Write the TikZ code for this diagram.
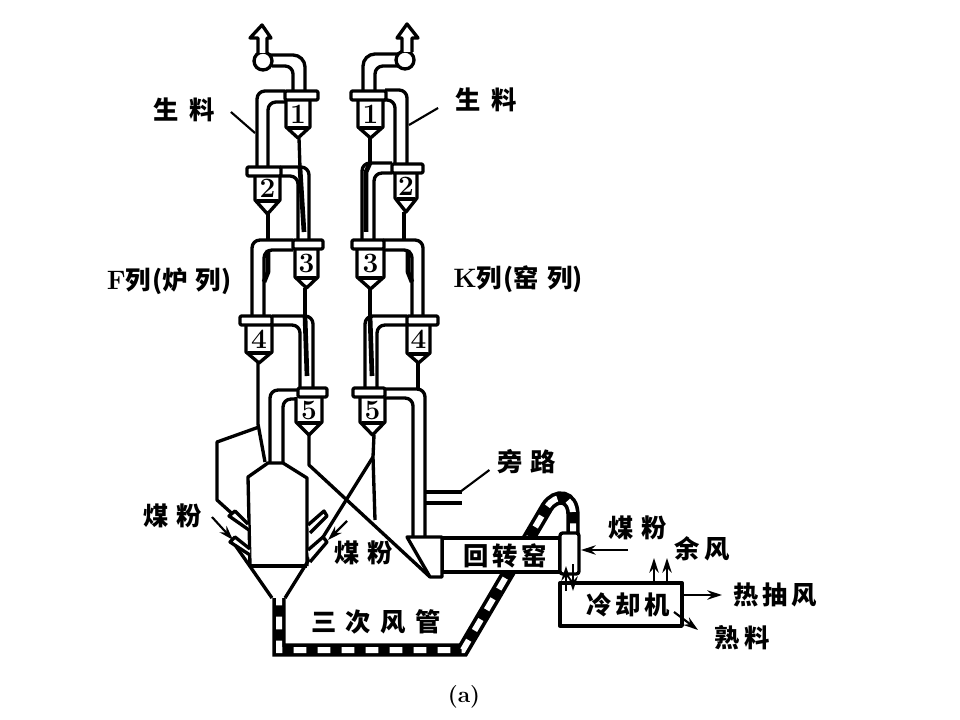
\documentclass[tikz,border=0pt]{standalone}
\usepackage{fontspec}
\newfontfamily\cjk{Noto Sans CJK SC}
\usetikzlibrary{arrows.meta}
\tikzset{
  >={Stealth},
  pipe/.style={line width=2.5pt,line join=round,rounded corners=6pt},
  wall/.style={line width=2.5pt,line join=round},
  stem/.style={line width=2.5pt},
  feed/.style={line width=3.5pt,line join=round},
  thin line/.style={line width=1.6pt},
  flow/.style={line width=1.6pt,->,>={Stealth[length=11pt,width=7pt]}},
  lbl/.style={font=\cjk\bfseries\fontsize{19}{20}\selectfont,inner sep=0pt},
  num/.style={font=\bfseries\fontsize{21}{21}\selectfont,inner sep=0pt},
  duct/.style={line width=10pt,line join=miter},
  ductgap/.style={line width=4.5pt,white,dash pattern=on 9.5pt off 8.5pt},
}
\newcommand{\latinb}[1]{{\rmfamily\bfseries\fontsize{20}{20}\selectfont #1}}

\begin{document}
\begin{tikzpicture}[x=0.75pt,y=-0.75pt]
	\useasboundingbox (0,0) rectangle (960,720);

	% tertiary air duct
	\path (279,598) coordinate (ductA) -- (279,650) coordinate (ductB)
		-- (463,650) coordinate (ductC) -- (547,507) coordinate (ductD);
	\draw[duct] (ductA) -- (ductB) -- (ductC) -- (ductD)
		.. controls (556,493) and (573,495) .. (573,515) -- (573,533);
	\draw[ductgap,dash phase=4pt] (ductA) -- (ductB) -- (ductC) -- (ductD)
		.. controls (556,493) and (573,495) .. (573,515) -- (573,533);

	% top outlets
	\draw[pipe,rounded corners=9pt] (305,92) -- (305,55) -- (270,55);
	\draw[pipe] (293,92) -- (293,66) -- (272,66);
	\draw[pipe,rounded corners=9pt] (363,92) -- (363,54) -- (398,54);
	\draw[pipe] (375,92) -- (375,66) -- (398,66);
	\draw[wall,fill=white] (263,61) circle (9);
	\draw[wall,fill=white] (405,60) circle (9);
	\draw[wall,fill=white] (258,53) -- (258,38) -- (250,38) -- (262,25) -- (271,38) -- (267,38) -- (267,53);
	\draw[wall,fill=white] (402,52) -- (402,38) -- (397,38) -- (407,24) -- (418,38) -- (412,38) -- (412,52);

	% F column, pipes
	\draw[pipe] (257,167) -- (257,91) -- (285,91);
	\draw[pipe] (268,167) -- (268,102) -- (285,102);
	\draw[pipe] (280,167) -- (309,167) -- (309,240);
	\draw[pipe] (280,176) -- (298,176) -- (298,240);
	\draw[pipe] (252,316) -- (252,240) -- (293,240);
	\draw[pipe] (264,316) -- (264,250) -- (293,250);
	\draw[pipe] (272,316) -- (313,316) -- (313,388);
	\draw[pipe] (272,325) -- (300,325) -- (300,388);
	\draw[pipe] (270,462) -- (270,390) -- (298,390);
	\draw[pipe] (283,462) -- (283,399) -- (298,399);

	% K column, pipes
	\draw[pipe] (407,163) -- (407,90) -- (385,90);
	\draw[pipe] (395,163) -- (395,100) -- (383,100);
	\draw[pipe] (392,163) -- (362,163) -- (362,240);
	\draw[pipe] (392,173) -- (374,173) -- (374,240);
	\draw[pipe] (423,316) -- (423,240) -- (383,240);
	\draw[pipe] (412,316) -- (412,250) -- (383,250);
	\draw[pipe] (407,316) -- (365,316) -- (365,388);
	\draw[pipe] (407,325) -- (377,325) -- (377,388);
	\draw[pipe] (385,389) -- (425,389) -- (425,538);
	\draw[pipe] (385,398) -- (413,398) -- (413,538);

	% stems and feed tubes
	\draw[stem] (299,138) -- (300,168);
	\draw[feed] (300,168) -- (304,232);
	\draw[stem] (268,214) -- (268,240);
	\draw[feed] (268,250) -- (268,272) -- (264,282);
	\draw[stem] (305,288) -- (305,316);
	\draw[feed] (305,316) -- (307,376);
	\draw[stem] (258,363) -- (258,424) -- (265,462);
	\draw[stem] (370,138) -- (370,163);
	\draw[feed] (370,163) -- (366,172) -- (366,232);
	\draw[stem] (404,212) -- (404,240);
	\draw[feed] (408,250) -- (408,272) -- (412,282);
	\draw[stem] (370,289) -- (370,316);
	\draw[feed] (370,316) -- (372,376);
	\draw[stem] (418,363) -- (418,388);

	% cyclones
	\foreach \nm/\txt/\xa/\xb/\ya/\xl/\xr/\ys/\yt in {
		Fa/1/285/318/91/286/310/127/138, Ka/1/351/386/91/358/383/127/138,
		Fb/2/247/281/167/255/280/200/214, Kb/2/392/423/164/395/417/198/212,
		Fc/3/293/323/240/295/318/277/288, Kc/3/352/384/240/357/384/277/289,
		Fd/4/240/272/316/246/272/352/363, Kd/4/407/438/316/407/430/353/363,
		Fe/5/298/327/388/296/322/422/435, Ke/5/353/385/388/360/385/422/435}{
		\draw[wall,fill=white] (\xl,\ya+9) -- (\xl,\ys) -- ({(\xl+\xr)/2},\yt) -- (\xr,\ys) -- (\xr,\ya+9);
		\draw[wall] (\xl+2,\ys+1) -- (\xr-2,\ys+1);
		\draw[wall,fill=white,rounded corners=1pt] (\xa,\ya) rectangle (\xb,\ya+9);
		\node[num] (\nm) at ({(\xl+\xr)/2},{(\ya+\ys)/2+5}) {\txt};
	}

	% furnace
	\draw[wall] (250,566) -- (248,477) -- (268,463) -- (283,463) -- (307,478) -- (307,566);
	\draw[wall] (250,566) -- (307,566);
	\draw[wall] (233,542) -- (272,598);
	\draw[wall] (373,457) -- (285,598);
	\draw[wall] (309,435) -- (309,465) -- (430,577);
	\draw[wall] (374,435) -- (373,457) -- (375,520);
	\draw[wall] (259,427) -- (217,442) -- (217,500) -- (248,528);

	% burners
	\draw[wall,fill=white] (249,530) -- (229,516) -- (235,511) -- (248,524);
	\draw[wall,fill=white] (250,555) -- (230,542) -- (235,537) -- (250,549);
	\draw[wall,fill=white] (308,525) -- (324,511) -- (327,516) -- (310,533);
	\draw[wall,fill=white] (308,550) -- (323,537) -- (327,542) -- (310,562);

	% kiln
	\draw[wall,fill=white] (442,538) rectangle (560,572);
	\draw[wall,fill=white] (407,537) -- (442,537) -- (442,577) -- (430,577) -- cycle;
	\draw[wall,fill=white,rounded corners=2pt] (560,533) rectangle (579,574);

	% bypass
	\draw[wall] (425,492) -- (462,492);
	\draw[wall] (425,503) -- (462,503);

	% cooler
	\draw[wall] (560,583) rectangle (682,626);
	\node[lbl] (cooler) at (628,605) {冷\hspace{3pt}却\hspace{3pt}机};
	\coordinate (headA) at (566,566);
	\coordinate (coolerA) at (566,591);
	\coordinate (headB) at (573,564);
	\coordinate (coolerB) at (573,591);
	\draw[flow] (coolerA) -- (headA);
	\draw[flow] (headB) -- (coolerB);

	% labels
	\node[lbl] (rawF) at (184,110) {生\hspace{8pt}料};
	\node[lbl] (rawK) at (486,100) {生\hspace{8pt}料};
	\node[lbl] (colF) at (169,281) {\latinb{F}列\hspace{1pt}(炉\hspace{6pt}列)};
	\node[lbl] (colK) at (518,279) {\latinb{K}列\hspace{1pt}(窑\hspace{6pt}列)};
	\node[lbl] (bypass) at (527,462) {旁\hspace{6pt}路};
	\node[lbl] (coalL) at (173,516) {煤\hspace{6pt}粉};
	\node[lbl] (coalR) at (364,553) {煤\hspace{6pt}粉};
	\node[lbl] (coalK) at (638,528) {煤\hspace{6pt}粉};
	\node[lbl] (kiln) at (505,556) {回\hspace{3pt}转\hspace{3pt}窑};
	\node[lbl] (tertiary) at (376,622) {三\hspace{7pt}次\hspace{7pt}风\hspace{7pt}管};
	\node[lbl] (waste) at (702,549) {余\hspace{4pt}风};
	\node[lbl] (hot) at (775,595) {热\hspace{3pt}抽\hspace{3pt}风};
	\node[lbl] (clinker) at (742,638) {熟\hspace{4pt}料};
	\node[inner sep=0pt,font=\rmfamily\bfseries\fontsize{17}{17}\selectfont] (sub) at (464,697) {(a)};

	% callouts
	\coordinate (wallF) at (255,133);
	\coordinate (wallK) at (409,125);
	\coordinate (wallB) at (460,492);
	\draw[thin line] (rawF.east) ++(16,2) -- (wallF);
	\draw[thin line] (rawK.west) ++(-17,8) -- (wallK);
	\draw[thin line] (bypass.west) ++(-8,8) -- (wallB);

	% coal, air and clinker arrows
	\coordinate (coalFa) at (212,517);
	\coordinate (coalFb) at (233,540);
	\coordinate (coalRa) at (347,521);
	\coordinate (coalRb) at (328,540);
	\coordinate (hoodIn) at (581,550);
	\coordinate (coalKa) at (628,550);
	\coordinate (coolerTopA) at (654,583);
	\coordinate (coolerTopB) at (667,583);
	\coordinate (coolerE) at (682,595);
	\coordinate (coolerS) at (674,612);
	\coordinate (hotEnd) at (722,595);
	\coordinate (clinkerEnd) at (698,630);
	\draw[flow] (coalFa) -- (coalFb);
	\draw[flow] (coalRa) -- (coalRb);
	\draw[flow] (coalKa) -- (hoodIn);
	\draw[flow] (coolerTopA) -- (654,558);
	\draw[flow] (coolerTopB) -- (667,558);
	\draw[flow] (coolerE) -- (hotEnd);
	\draw[flow] (coolerS) -- (clinkerEnd);
\end{tikzpicture}
\end{document}
